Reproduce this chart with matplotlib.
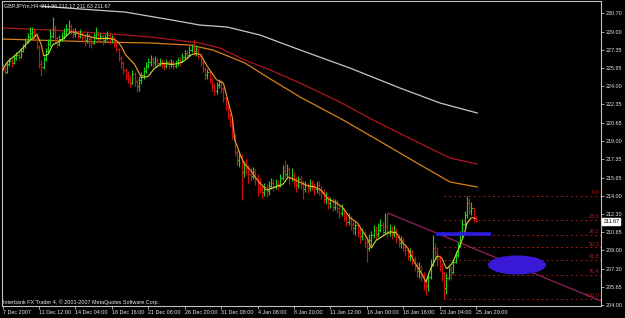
import matplotlib
matplotlib.use('Agg')
import matplotlib.pyplot as plt
import matplotlib.transforms as mtransforms
from matplotlib import font_manager
from matplotlib.collections import LineCollection
from matplotlib.patches import Ellipse

# ---------------- data ----------------
first_open = 225.8
close = [225.6,225.3,226.0,226.3,226.1,226.6,226.9,226.7,227.2,227.7,
         228.1,228.5,228.9,229.0,228.6,227.6,226.0,225.8,226.5,227.2,
         227.9,228.6,229.3,228.4,227.9,228.3,228.6,228.8,229.2,229.5,
         229.1,228.8,229.0,228.6,228.9,228.5,228.2,228.7,228.3,228.0,
         228.5,228.8,228.4,228.6,228.2,228.5,228.7,228.3,228.4,228.0,
         227.4,226.6,226.1,225.5,225.0,224.7,224.3,225.1,224.5,224.0,
         224.6,225.0,225.4,225.9,226.2,226.5,226.2,226.4,226.1,226.3,
         226.0,225.9,226.2,226.0,226.2,225.9,226.1,226.4,226.3,226.7,
         227.0,226.9,227.3,227.6,227.2,227.4,226.8,226.2,225.6,225.0,
         225.3,224.7,224.0,223.6,224.1,224.4,223.8,222.9,222.1,221.4,
         220.8,219.5,218.0,217.3,217.6,216.2,216.8,216.5,216.0,215.8,
         216.2,215.6,215.2,214.6,214.3,214.8,214.4,214.9,215.2,214.8,
         215.1,214.9,215.6,216.3,216.0,216.4,215.6,215.9,215.3,215.0,
         215.5,215.1,214.6,215.0,214.7,215.2,214.9,214.6,215.0,214.5,
         214.2,213.7,213.9,213.3,213.6,213.0,213.4,212.9,212.4,212.8,
         212.0,211.6,212.0,211.4,211.0,211.3,210.7,210.3,210.6,209.8,
         209.2,209.9,210.4,210.9,210.5,210.9,211.3,210.7,211.2,210.6,
         210.9,210.5,210.8,210.2,209.7,209.9,209.3,209.0,208.5,208.9,
         208.2,207.6,207.1,207.5,206.8,206.1,205.7,206.6,207.7,209.2,
         208.8,208.2,207.6,206.9,205.6,206.5,207.3,207.0,207.9,208.6,
         209.5,210.4,211.4,212.2,213.3,212.6,212.9,211.96,211.67]
high = [226.0,225.8,226.2,226.6,226.5,226.9,227.1,227.2,227.5,227.9,
        228.4,228.9,229.4,229.4,229.2,228.8,227.8,226.4,226.8,227.5,
        228.3,229.2,230.3,229.6,228.6,228.7,229.0,229.3,229.7,230.1,
        229.7,229.3,229.3,229.1,229.2,229.0,228.8,229.0,228.9,228.6,
        228.9,229.4,229.0,228.9,228.8,228.8,229.1,228.9,228.7,228.6,
        228.2,227.5,226.8,226.3,225.7,225.4,225.0,225.5,225.3,224.7,
        224.9,225.3,225.8,226.2,226.6,226.9,226.7,226.8,226.6,226.6,
        226.5,226.3,226.5,226.4,226.5,226.4,226.4,226.7,226.7,227.0,
        227.3,227.3,227.7,227.9,228.3,227.8,227.5,227.0,226.4,225.8,
        225.6,225.4,224.8,224.3,224.4,224.7,224.6,223.9,223.0,222.3,
        221.6,221.0,219.6,218.2,218.1,217.8,217.2,217.4,216.8,216.5,
        216.6,216.4,216.0,215.6,215.0,215.2,215.1,215.3,215.6,215.5,
        215.5,215.4,216.0,216.8,217.3,216.9,216.6,216.5,216.2,215.7,
        215.8,215.9,215.4,215.3,215.2,215.5,215.4,215.2,215.3,215.3,
        214.9,214.6,214.3,214.0,213.9,213.8,213.7,213.6,213.1,213.2,
        212.9,212.3,212.4,212.1,211.7,211.6,211.5,211.0,211.0,210.8,
        210.2,210.5,210.8,211.3,211.2,211.5,211.9,211.6,212.4,212.4,
        211.4,211.2,211.3,211.0,210.5,210.3,210.1,209.6,209.3,209.2,
        209.0,208.5,207.9,207.9,207.7,207.0,206.5,206.9,208.2,210.4,
        209.7,209.3,208.6,207.8,207.1,206.9,207.6,207.6,208.2,208.9,
        209.8,210.8,211.9,212.6,214.0,213.8,213.4,213.0,212.17]
low = [225.3,225.1,225.2,225.9,225.8,226.0,226.4,226.4,226.6,227.1,
       227.5,228.0,228.3,228.5,228.3,227.4,225.7,224.9,225.6,226.3,
       227.0,227.7,228.4,228.0,227.5,227.7,228.1,228.3,228.6,228.9,
       228.7,228.4,228.5,228.3,228.4,228.1,227.7,228.0,227.6,227.5,
       227.9,228.3,228.1,228.2,227.8,228.0,228.2,227.9,228.0,227.6,
       227.1,226.3,225.6,225.1,224.6,224.3,223.9,224.2,224.0,223.5,
       223.6,224.2,224.7,225.2,225.7,225.9,225.8,225.9,225.8,225.9,
       225.7,225.5,225.7,225.6,225.8,225.6,225.7,225.9,225.9,226.2,
       226.5,226.5,226.8,227.1,226.9,226.8,226.5,225.9,225.3,224.6,
       224.7,224.3,223.6,223.2,223.3,223.8,223.4,222.6,221.8,221.0,
       220.4,219.2,217.6,216.8,216.6,213.6,215.7,216.0,215.2,215.3,
       215.5,215.0,214.0,214.2,213.8,214.0,213.9,214.1,214.6,214.4,
       214.6,214.5,214.8,215.4,215.6,215.7,215.1,215.3,214.8,214.3,
       214.7,214.6,213.7,214.3,214.2,214.4,214.5,214.1,214.2,214.1,
       213.7,213.3,213.2,212.8,212.9,212.6,212.7,212.4,212.0,212.1,
       211.7,211.2,211.3,210.9,210.5,210.4,210.2,209.7,209.9,209.2,
       207.9,208.9,209.5,210.1,209.9,210.2,210.7,210.3,210.6,210.2,
       210.3,210.0,210.2,209.7,209.3,209.2,208.9,208.5,208.1,208.0,
       207.7,207.1,206.6,206.5,206.2,205.4,204.9,205.3,206.4,207.6,
       208.2,207.6,207.1,206.2,204.54,205.0,206.3,206.4,206.8,207.8,
       208.4,209.3,210.2,211.1,212.0,212.3,212.2,211.6,211.63]

# short moving average
ma_x = [0,2,7,12,14,15,17,18,20,22,24,27,30,32,37,41,47,50,52,54,58,61,64,66.5,
        70,75,79,83,85,87,90,94,97,99,101,102,104.5,106,109,112,116,121,123,125.5,
        129,134,137,140,143,147,149.5,152.5,156,158,160,162,164,167,170,173,175,
        178,181,184,186,188,191,193,195,197.5,200.5,203,204,206,208]
ma_y = [225.5,226.2,227.1,228.2,228.5,228.8,227.8,226.8,226.9,227.8,228.0,228.4,
        229.0,228.9,228.6,228.4,228.4,228.2,227.7,226.9,226.0,224.8,224.9,225.6,
        226.1,226.0,226.2,226.9,227.0,226.9,225.8,224.6,224.3,222.7,221.1,219.1,
        217.7,217.0,216.3,215.4,214.5,214.9,215.0,215.7,215.4,214.9,214.8,214.5,
        213.7,213.3,212.9,212.0,211.5,210.8,210.2,209.2,209.9,210.3,210.7,210.6,
        209.9,209.2,207.9,206.9,206.1,207.3,208.5,208.3,207.3,207.8,209.2,210.6,
        211.5,212.0,211.9]
# long moving averages
red_x = [0,20.8,42.8,64.8,86.7,95.5,106.5,117.5,130.7,148.2,162.7,177.7,196.6,208.5]
red_y = [229.33,229.15,228.87,228.51,227.96,227.50,226.40,225.49,224.30,222.56,
         220.92,219.36,217.44,216.89]
orange_x = [0,42.8,64.8,82.3,92.4,106.5,116.2,130.7,149.6,167.1,182.1,196.6,208.5]
orange_y = [228.32,228.05,227.96,227.77,227.32,226.13,224.85,223.02,220.92,218.81,
            216.98,215.25,214.79]
white_x = [16.4,34.0,53.8,74.4,86.7,98.6,113.1,130.7,152.6,174.6,192.2,208.5]
white_y = [231.34,231.07,230.79,230.06,229.60,229.42,228.69,227.32,225.67,223.84,
           222.47,221.56]

date_labels = ['7 Dec 2007','11 Dec 12:00','14 Dec 04:00','18 Dec 16:00','21 Dec 08:00',
               '26 Dec 20:00','31 Dec 08:00','4 Jan 08:00','8 Jan 20:00','11 Jan 12:00',
               '16 Jan 00:00','18 Jan 16:00','23 Jan 04:00','25 Jan 20:00']
price_ticks = [230.70,229.00,227.35,225.65,224.00,222.35,220.65,219.00,217.35,
               215.65,214.00,212.30,210.65,209.00,207.30,205.65,204.00]

fib_levels = [0.0,23.6,38.2,50.0,61.8,76.4,100.0]
fib_labels = ['0.0','23.6','38.2','50.0','61.8','76.4','100.0']
fib_high, fib_low, fib_start = 214.00, 204.54, 194

trend_x = [169.3, 262.9]
trend_y = [212.41, 204.37]
blue_x = [190.4, 214.6]
blue_y = 210.45
ell_center = (226.0, 207.66)
ell_w, ell_h = 25.5, 1.74

title_txt = 'GBPJPYm,H4  211.96 212.17 211.63 211.67'
copy_txt = 'Interbank FX Trader 4, \u00a9 2001-2007 MetaQuotes Software Corp.'
last_price = 211.67

# ---------------- fonts ----------------
_names = {f.name for f in font_manager.fontManager.ttflist}
if 'Liberation Sans Narrow' in _names:
    FONT, FS = ['Liberation Sans Narrow', 'DejaVu Sans'], 4.5
else:
    FONT, FS = ['Liberation Sans', 'DejaVu Sans'], 3.85

# ---------------- drawing ----------------
W, H = 625, 318
fig = plt.figure(figsize=(W/100, H/100), dpi=100, facecolor='black')
ax = fig.add_axes([2/W, 12/H, 599/W, 305/H])
ax.set_facecolor('black')
ax.set_xlim(-0.26, 262.9)
ax.set_ylim(203.91, 231.80)

UP, DN = '#18d018', '#d01010'
n = len(close)
opens = [first_open] + close[:-1]
for i in range(n):
    c = UP if close[i] >= opens[i] else DN
    ax.plot([i, i], [low[i], high[i]], color=c, lw=0.85, solid_capstyle='butt', zorder=3)
    ax.plot([i - 0.45, i], [opens[i], opens[i]], color=c, lw=0.7, zorder=3)
    ax.plot([i, i + 0.45], [close[i], close[i]], color=c, lw=0.7, zorder=3)

ax.plot(white_x, white_y, color='#c8c8c8', lw=0.9, zorder=2)
ax.plot(red_x, red_y, color='#b01420', lw=0.9, zorder=2)
ax.plot(orange_x, orange_y, color='#d8801c', lw=0.9, zorder=2)

segs, cols = [], []
for k in range(len(ma_x) - 1):
    segs.append([(ma_x[k], ma_y[k]), (ma_x[k+1], ma_y[k+1])])
    slope = (ma_y[k+1] - ma_y[k]) / (ma_x[k+1] - ma_x[k])
    if slope > 0.04:
        cols.append('#c4d838')
    elif slope < -0.04:
        cols.append('#e89a28')
    else:
        cols.append('#e8d028')
ax.add_collection(LineCollection(segs, colors=cols, linewidths=0.85, zorder=4))

# fibonacci
rng = fib_high - fib_low
for lv, lab in zip(fib_levels, fib_labels):
    y = fib_high - rng * lv / 100.0
    ax.plot([fib_start, 262.9], [y, y], color='#a81818', lw=0.7,
            linestyle=(0, (2, 3)), zorder=2)
    ax.text(262.3, y + 0.08, lab, color='#b41c1c', fontsize=FS, family=FONT,
            ha='right', va='bottom', zorder=5)

ax.plot(trend_x, trend_y, color='#95205f', lw=0.9, zorder=2)
ax.plot(blue_x, [blue_y, blue_y], color='#2b1ce0', lw=2.6, solid_capstyle='butt', zorder=5)
ax.add_patch(Ellipse(ell_center, ell_w, ell_h, facecolor='#3a18d8', edgecolor='none', zorder=5))

# axes styling
for s in ax.spines.values():
    s.set_color('#c0c0c0')
    s.set_linewidth(0.8)
ax.yaxis.tick_right()
ax.set_yticks(price_ticks)
ax.set_yticklabels(['%.2f' % p for p in price_ticks])
ax.tick_params(axis='y', colors='#c0c0c0', labelcolor='#e8e8e8', length=2.2, width=0.6,
               pad=1.2, labelsize=FS)
ax.set_xticks([16 * k for k in range(len(date_labels))])
ax.set_xticklabels(date_labels)
ax.tick_params(axis='x', colors='#c0c0c0', labelcolor='#e8e8e8', length=2.2, width=0.6,
               pad=1.0, labelsize=FS)
for t in ax.get_xticklabels() + ax.get_yticklabels():
    t.set_family(FONT)
for t in ax.get_xticklabels():
    t.set_horizontalalignment('left')

trans = mtransforms.blended_transform_factory(ax.transAxes, ax.transData)
ax.text(1.004, last_price, '%.2f' % last_price, transform=trans, color='black',
        fontsize=FS, family=FONT, ha='left', va='center', zorder=6,
        bbox=dict(facecolor='white', edgecolor='white', pad=0.7), clip_on=False)

fig.text(4/W, 1 - 6/H, title_txt, color='#f0f0f0', fontsize=FS, family=FONT,
         ha='left', va='center')
fig.text(3/W, 1 - 302/H, copy_txt, color='#f0f0f0', fontsize=FS, family=FONT,
         ha='left', va='center')

fig.savefig('out.png', dpi=100, facecolor='black')
